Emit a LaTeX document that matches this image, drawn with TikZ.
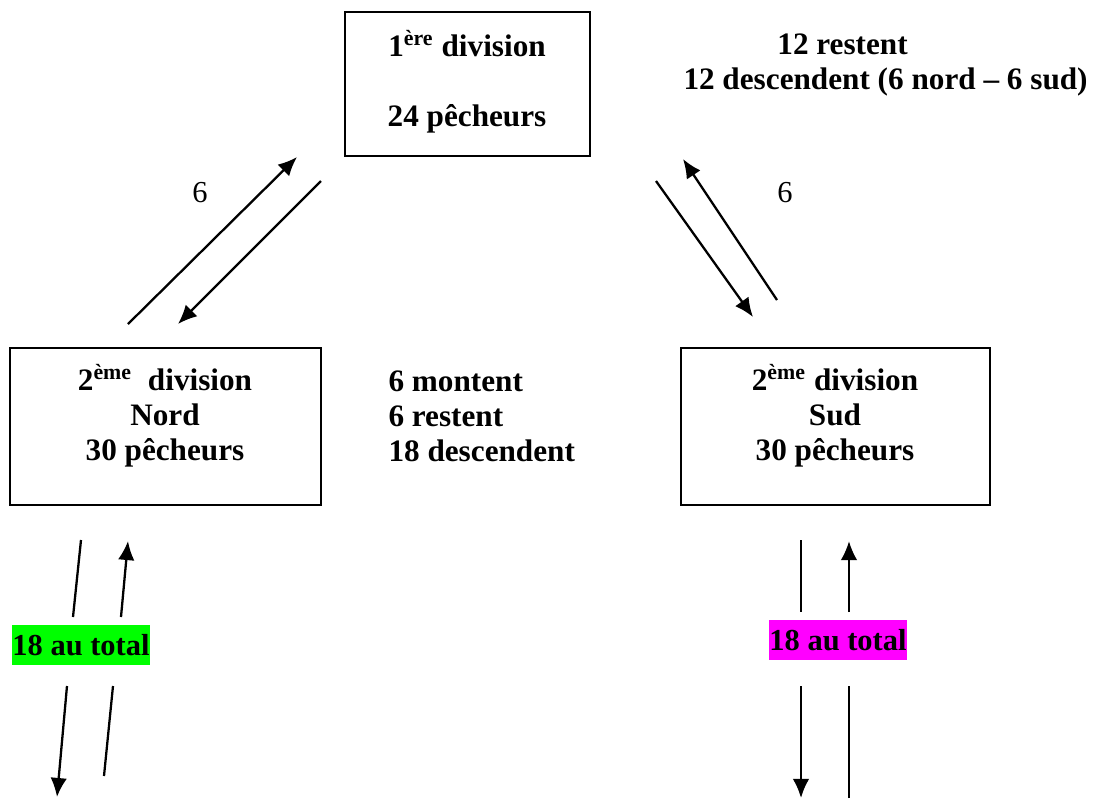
\documentclass[tikz,border=0pt]{standalone}
\usepackage{fontspec}
\setmainfont{Liberation Serif}
\usetikzlibrary{arrows.meta,fit}
\tikzset{
  >={Latex[length=7.5pt,width=6.5pt]},
  flux/.style={line width=0.9pt},
  boite/.style={draw,line width=0.9pt,inner sep=0pt},
  texte/.style={font=\fontsize{12.3pt}{13.8pt}\selectfont\bfseries,align=center},
  texteg/.style={font=\fontsize{12.3pt}{13.8pt}\selectfont\bfseries,align=left,inner sep=0pt},
  total/.style={font=\fontsize{12pt}{13.8pt}\selectfont\bfseries,inner xsep=0.3pt,inner ysep=3.5pt},
  nombre/.style={font=\fontsize{12pt}{13.8pt}\selectfont},
}
\begin{document}
\begin{tikzpicture}[x=0.394pt,y=-0.394pt]
    \useasboundingbox (0,0) rectangle (1099,798);
    % les trois divisions
    \node[boite,fit={(345,12) (590,156)}] (div1) {};
    \node[boite,fit={(10,348) (321,505)}] (nord) {};
    \node[boite,fit={(681,348) (990,505)}] (sud) {};
    \node[texte] (t1) at (467,82) {1\textsuperscript{ère} division\\[13.8pt]24 pêcheurs};
    \node[texte] (tnord) at (165,416) {2\textsuperscript{ème}\ \ division\\Nord\\30 pêcheurs};
    \node[texte] (tsud) at (835,416) {2\textsuperscript{ème} division\\Sud\\30 pêcheurs};
    % commentaires
    \node[texteg,anchor=west] (reste) at (683,65) {\hspace*{37pt}12 restent\\12 descendent (6 nord -- 6 sud)};
    \node[texteg,anchor=west] (montent) at (388,416) {6 montent\\6 restent\\18 descendent};
    \node[nombre] (sixg) at (200,193) {6};
    \node[nombre] (sixd) at (785,193) {6};
    % echanges avec la 1ere division
    \coordinate (g1) at (128,324); \coordinate (g2) at (297,157);
    \coordinate (g3) at (321,181); \coordinate (g4) at (178,324);
    \coordinate (d1) at (656,181); \coordinate (d2) at (753,317);
    \coordinate (d3) at (777,300); \coordinate (d4) at (683,159);
    \draw[flux,->] (g1)--(g2);
    \draw[flux,->] (g3)--(g4);
    \draw[flux,->] (d1)--(d2);
    \draw[flux,->] (d3)--(d4);
    % vers les divisions inferieures
    \node[total,fill={rgb,255:red,0;green,255;blue,0}] (totn) at (81,645) {18 au total};
    \node[total,fill={rgb,255:red,255;green,0;blue,255}] (tots) at (838,640) {18 au total};
    \coordinate (n1) at (81,540); \coordinate (n2) at (73,617);
    \coordinate (n3) at (121,617); \coordinate (n4) at (128,541);
    \coordinate (n5) at (67,686); \coordinate (n6) at (57,797);
    \coordinate (n7) at (104,776); \coordinate (n8) at (113,686);
    \draw[flux] (n1)--(n2);
    \draw[flux,->] (n3)--(n4);
    \draw[flux,->] (n5)--(n6);
    \draw[flux] (n7)--(n8);
    \coordinate (s1) at (801,540); \coordinate (s2) at (801,612);
    \coordinate (s3) at (849,612); \coordinate (s4) at (849,541);
    \coordinate (s5) at (801,686); \coordinate (s6) at (801,798);
    \coordinate (s7) at (849,798); \coordinate (s8) at (849,686);
    \draw[flux] (s1)--(s2);
    \draw[flux,->] (s3)--(s4);
    \draw[flux,->] (s5)--(s6);
    \draw[flux] (s7)--(s8);
\end{tikzpicture}
\end{document}
